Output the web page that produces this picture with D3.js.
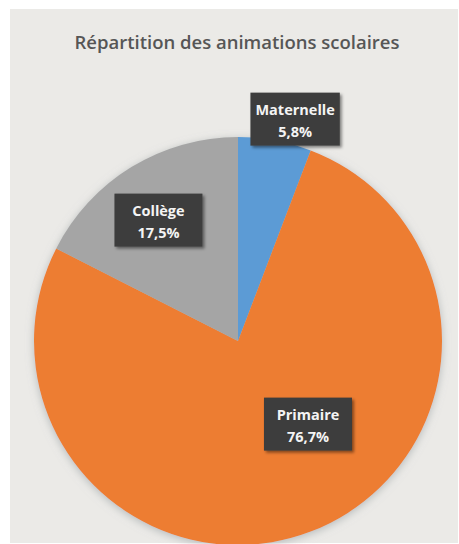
<!DOCTYPE html>
<html>
<head>
<meta charset="utf-8">
<script src="https://cdn.jsdelivr.net/npm/d3@7"></script>
<style>
  html, body { margin: 0; padding: 0; background: #ffffff; }
  svg { display: block; }
</style>
</head>
<body>
<svg id="chart" width="459" height="544"></svg>
<script>
// School activity breakdown
const categories = ["Maternelle", "Primaire", "Collège"];
const values = [5.8, 76.7, 17.5];
const labels = ["5,8%", "76,7%", "17,5%"];
const colors = ["#5b9bd5", "#ed7d31", "#a5a5a5"];
// label box placement, in units of the pie radius from the centre
const labelAnchors = [[0.28, -1.09], [0.343, 0.405], [-0.39, -0.595]];

const W = 459, H = 544;
const cx = 238, cy = 341, R = 204;

const svg = d3.select("#chart");
const defs = svg.append("defs");

const pieShadow = defs.append("filter").attr("id", "pieShadow")
  .attr("x", "-20%").attr("y", "-20%").attr("width", "140%").attr("height", "140%");
pieShadow.append("feDropShadow").attr("dx", 0).attr("dy", 2)
  .attr("stdDeviation", 4).attr("flood-color", "#8a9396").attr("flood-opacity", 0.55);

const boxShadow = defs.append("filter").attr("id", "boxShadow")
  .attr("x", "-20%").attr("y", "-30%").attr("width", "150%").attr("height", "170%");
boxShadow.append("feDropShadow").attr("dx", 2).attr("dy", 2)
  .attr("stdDeviation", 1.5).attr("flood-color", "#000").attr("flood-opacity", 0.45);

// chart area background
svg.append("rect").attr("x", 10).attr("y", 9).attr("width", W - 11).attr("height", H - 10)
  .attr("fill", "#ebeae7");

svg.append("text")
  .attr("x", 237).attr("y", 49)
  .attr("text-anchor", "middle")
  .attr("font-family", "'Open Sans', 'Noto Sans', sans-serif")
  .attr("font-weight", 600)
  .attr("font-size", 18.5)
  .attr("fill", "#565656")
  .text("Répartition des animations scolaires");

const pie = d3.pie().sort(null).value(d => d);
const arc = d3.arc().innerRadius(0).outerRadius(R);
const arcs = pie(values);

const g = svg.append("g").attr("transform", `translate(${cx},${cy})`);
g.append("g").attr("filter", "url(#pieShadow)")
  .selectAll("path").data(arcs).join("path")
  .attr("d", arc)
  .attr("fill", (d, i) => colors[i]);

// data labels
const lbl = g.selectAll("g.lbl").data(arcs).join("g").attr("class", "lbl")
  .attr("transform", (d, i) => `translate(${labelAnchors[i][0] * R},${labelAnchors[i][1] * R})`);

lbl.each(function(d, i) {
  const sel = d3.select(this);
  const t = sel.append("text")
    .attr("text-anchor", "middle")
    .attr("font-family", "'Open Sans', 'Noto Sans', sans-serif")
    .attr("font-weight", 700)
    .attr("font-size", 14.5)
    .attr("fill", "#f4f4f4");
  t.append("tspan").attr("x", 0).attr("y", -4).text(categories[i]);
  t.append("tspan").attr("x", 0).attr("y", 18).text(labels[i]);
  const bb = t.node().getBBox();
  const w = Math.max(bb.width + 10, 88);
  sel.insert("rect", "text")
    .attr("x", -w / 2).attr("y", -26)
    .attr("width", w).attr("height", 53)
    .attr("fill", "#3d3d3d")
    .attr("filter", "url(#boxShadow)");
});
</script>
</body>
</html>
